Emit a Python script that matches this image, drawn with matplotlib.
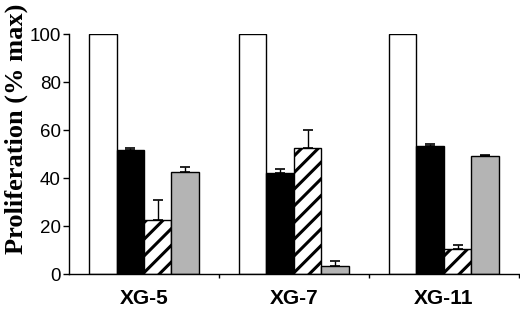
import numpy as np
import matplotlib
matplotlib.use("Agg")
import matplotlib.pyplot as plt

# data
cell_lines = ["XG-5", "XG-7", "XG-11"]
control = [100, 100, 100]
black_vals = [51.7, 42.2, 53.5]
black_err = [0.9, 1.4, 0.9]
hatch_vals = [22.4, 52.5, 10.5]
hatch_err = [8.6, 7.6, 1.6]
gray_vals = [42.6, 3.3, 49.0]
gray_err = [1.9, 2.1, 0.6]

plt.rcParams["hatch.linewidth"] = 2.2

fig = plt.figure(figsize=(5.2, 3.1), dpi=100)
ax = fig.add_axes([0.1327, 0.116, 0.865, 0.774])

x = np.arange(len(cell_lines))
w = 0.183
series = [
    (control, None, "white", ""),
    (black_vals, black_err, "black", ""),
    (hatch_vals, hatch_err, "white", "//"),
    (gray_vals, gray_err, "#b4b4b4", ""),
]
for i, (vals, err, col, hat) in enumerate(series):
    pos = x + (i - 1.5) * w
    ax.bar(pos, vals, width=w, color=col, edgecolor="black", linewidth=1.0,
           hatch=hat, zorder=2)
    if err is not None:
        ax.errorbar(pos, vals, yerr=[np.zeros(len(err)), err], fmt="none",
                    ecolor="black", elinewidth=1.0, capsize=3.5, capthick=1.2,
                    zorder=3)

ax.set_xlim(-0.5, 2.5)
ax.set_ylim(0, 100)
ax.set_yticks([0, 20, 40, 60, 80, 100])
ax.set_yticklabels(["0", "20", "40", "60", "80", "100"],
                   fontsize=13.5, family="Liberation Sans")
ax.set_xticks(x)
ax.set_xticklabels(cell_lines, fontsize=15, fontweight="bold",
                   family="Liberation Sans")
ax.tick_params(axis="x", which="major", length=0, pad=11)
ax.set_xticks([0.5, 1.5, 2.5], minor=True)
ax.tick_params(axis="x", which="minor", length=3, width=1)
ax.tick_params(axis="y", length=4, width=1, pad=2)

for s in ["top", "right"]:
    ax.spines[s].set_visible(False)
ax.spines["left"].set_linewidth(1.0)
ax.spines["bottom"].set_linewidth(1.0)

ax.set_ylabel("Proliferation (% max)", fontsize=19, fontweight="bold",
              family="Liberation Serif")
ax.yaxis.set_label_coords(-0.092, 0.604)

fig.savefig("out.png", dpi=100)
